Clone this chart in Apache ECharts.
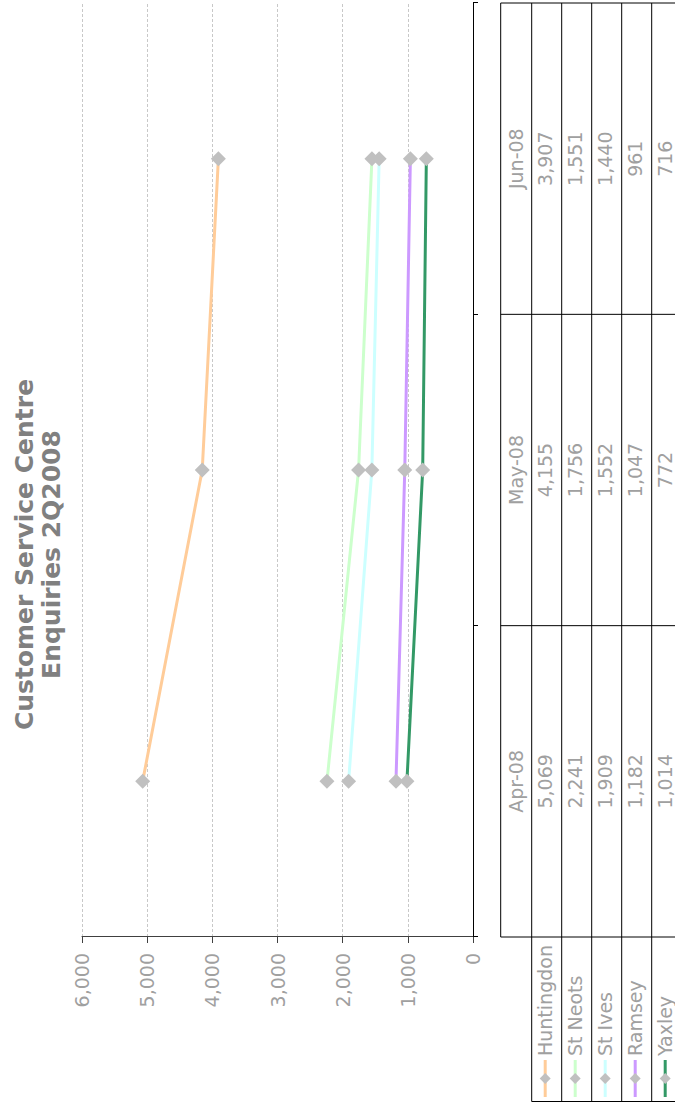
<!DOCTYPE html>
<html>
<head>
<meta charset="utf-8">
<title>Customer Service Centre Enquiries 2Q2008</title>
<script src="https://cdn.jsdelivr.net/npm/echarts@6/dist/echarts.min.js"></script>
<style>
  html, body { margin: 0; padding: 0; background: #fff; width: 675px; height: 1109px; overflow: hidden; }
  /* The chart is laid out landscape and turned a quarter turn anticlockwise onto the page */
  #chart {
    position: absolute; left: 0; top: 0;
    width: 1109px; height: 675px;
    transform-origin: 0 0;
    transform: rotate(-90deg) translateX(-1109px);
  }
</style>
</head>
<body>
<div id="chart"></div>
<script>
// Monthly enquiries per office
const categories = ['Apr-08', 'May-08', 'Jun-08'];
const seriesNames = ['Huntingdon', 'St Neots', 'St Ives', 'Ramsey', 'Yaxley'];
const huntingdon = [5069, 4155, 3907];
const stNeots    = [2241, 1756, 1551];
const stIves     = [1909, 1552, 1440];
const ramsey     = [1182, 1047, 961];
const yaxley     = [1014, 772, 716];
const valueTicks = [0, 1000, 2000, 3000, 4000, 5000, 6000];

const seriesData = [huntingdon, stNeots, stIves, ramsey, yaxley];
const lineColors = ['#ffcc99', '#ccffcc', '#ccffff', '#cc99ff', '#339966'];

const FONT = '"DejaVu Sans", Verdana, sans-serif';
const LABEL_COLOR = '#a0a0a0';
const LABEL_SIZE = 19;
const fmt = v => v.toLocaleString('en-US');

const chart = echarts.init(document.getElementById('chart'), null, { renderer: 'svg' });

const grid = { left: 172, right: 3, top: 82, bottom: 202 };

chart.setOption({
  animation: false,
  backgroundColor: '#ffffff',
  textStyle: { fontFamily: FONT },
  title: {
    text: 'Customer Service Centre\nEnquiries 2Q2008',
    left: 'center',
    top: 6,
    textStyle: { fontFamily: FONT, fontSize: 25, fontWeight: 'bold', color: '#808080', lineHeight: 27 }
  },
  grid: grid,
  xAxis: {
    type: 'category',
    data: categories,
    boundaryGap: true,
    axisLine: { show: true, lineStyle: { color: '#000000', width: 1 } },
    axisTick: { show: true, length: 5, lineStyle: { color: '#000000' } },
    axisLabel: { show: false },
    splitLine: { show: false }
  },
  yAxis: {
    type: 'value',
    min: valueTicks[0],
    max: valueTicks[valueTicks.length - 1],
    interval: valueTicks[1] - valueTicks[0],
    axisLine: { show: true, lineStyle: { color: '#404040', width: 1 } },
    axisTick: { show: true, length: 6, lineStyle: { color: '#404040' } },
    axisLabel: {
      margin: 16,
      color: LABEL_COLOR,
      fontSize: LABEL_SIZE,
      fontFamily: FONT,
      formatter: v => fmt(v)
    },
    splitLine: { show: true, lineStyle: { color: '#c8c8c8', type: [3, 2], width: 1 } }
  },
  series: seriesNames.map((name, i) => ({
    name: name,
    type: 'line',
    data: seriesData[i],
    symbol: 'diamond',
    symbolSize: 15,
    showSymbol: true,
    lineStyle: { color: lineColors[i], width: 3 },
    itemStyle: { color: '#c0c0c0' },
    emphasis: { disabled: true },
    z: 3
  }))
});

// Data table under the plot: header row of months, one row per office with its legend key
function buildTable() {
  const centers = categories.map(c => chart.convertToPixel({ xAxisIndex: 0 }, c));
  const band = centers.length > 1 ? centers[1] - centers[0] : 300;
  const bounds = [centers[0] - band / 2].concat(centers.map(c => c + band / 2));
  const left = bounds[0], right = bounds[bounds.length - 1];
  const keyLeft = 7.5;
  const headTop = 500.7;
  const headH = 31;
  const rowH = 30;
  const rowTops = [headTop];
  for (let r = 0; r <= seriesNames.length; r++) rowTops.push(headTop + headH + r * rowH);
  const bottom = rowTops[rowTops.length - 1];

  const els = [];
  const line = (x1, y1, x2, y2) => els.push({
    type: 'line', silent: true,
    shape: { x1, y1, x2, y2 },
    style: { stroke: '#000000', lineWidth: 1 }
  });
  const text = (s, x, y, align) => els.push({
    type: 'text', silent: true,
    style: {
      text: s, x, y,
      align: align, verticalAlign: 'middle',
      textAlign: align, textVerticalAlign: 'middle',
      fill: LABEL_COLOR, fontSize: LABEL_SIZE, fontFamily: FONT,
      font: LABEL_SIZE + 'px ' + FONT
    }
  });

  // horizontal rules
  line(left, headTop, right, headTop);
  for (let r = 1; r < rowTops.length; r++) line(keyLeft, rowTops[r], right, rowTops[r]);
  // vertical rules
  line(keyLeft, rowTops[1], keyLeft, bottom);
  bounds.forEach(b => line(b, headTop, b, bottom));

  // month headers
  categories.forEach((c, j) => text(c, centers[j], (rowTops[0] + rowTops[1]) / 2, 'center'));

  // rows
  seriesNames.forEach((name, i) => {
    const cy = (rowTops[i + 1] + rowTops[i + 2]) / 2 - 1.5;
    // legend key: coloured line with a grey diamond
    els.push({
      type: 'line', silent: true,
      shape: { x1: 12, y1: cy, x2: 49, y2: cy },
      style: { stroke: lineColors[i], lineWidth: 3 }
    });
    els.push({
      type: 'polygon', silent: true,
      shape: { points: [[30.5, cy - 5.5], [36, cy], [30.5, cy + 5.5], [25, cy]] },
      style: { fill: '#c0c0c0' }
    });
    text(name, 53, cy, 'left');
    seriesData[i].forEach((v, j) => text(fmt(v), centers[j], cy, 'center'));
  });

  chart.setOption({ graphic: { elements: els } });
}
buildTable();
</script>
</body>
</html>
